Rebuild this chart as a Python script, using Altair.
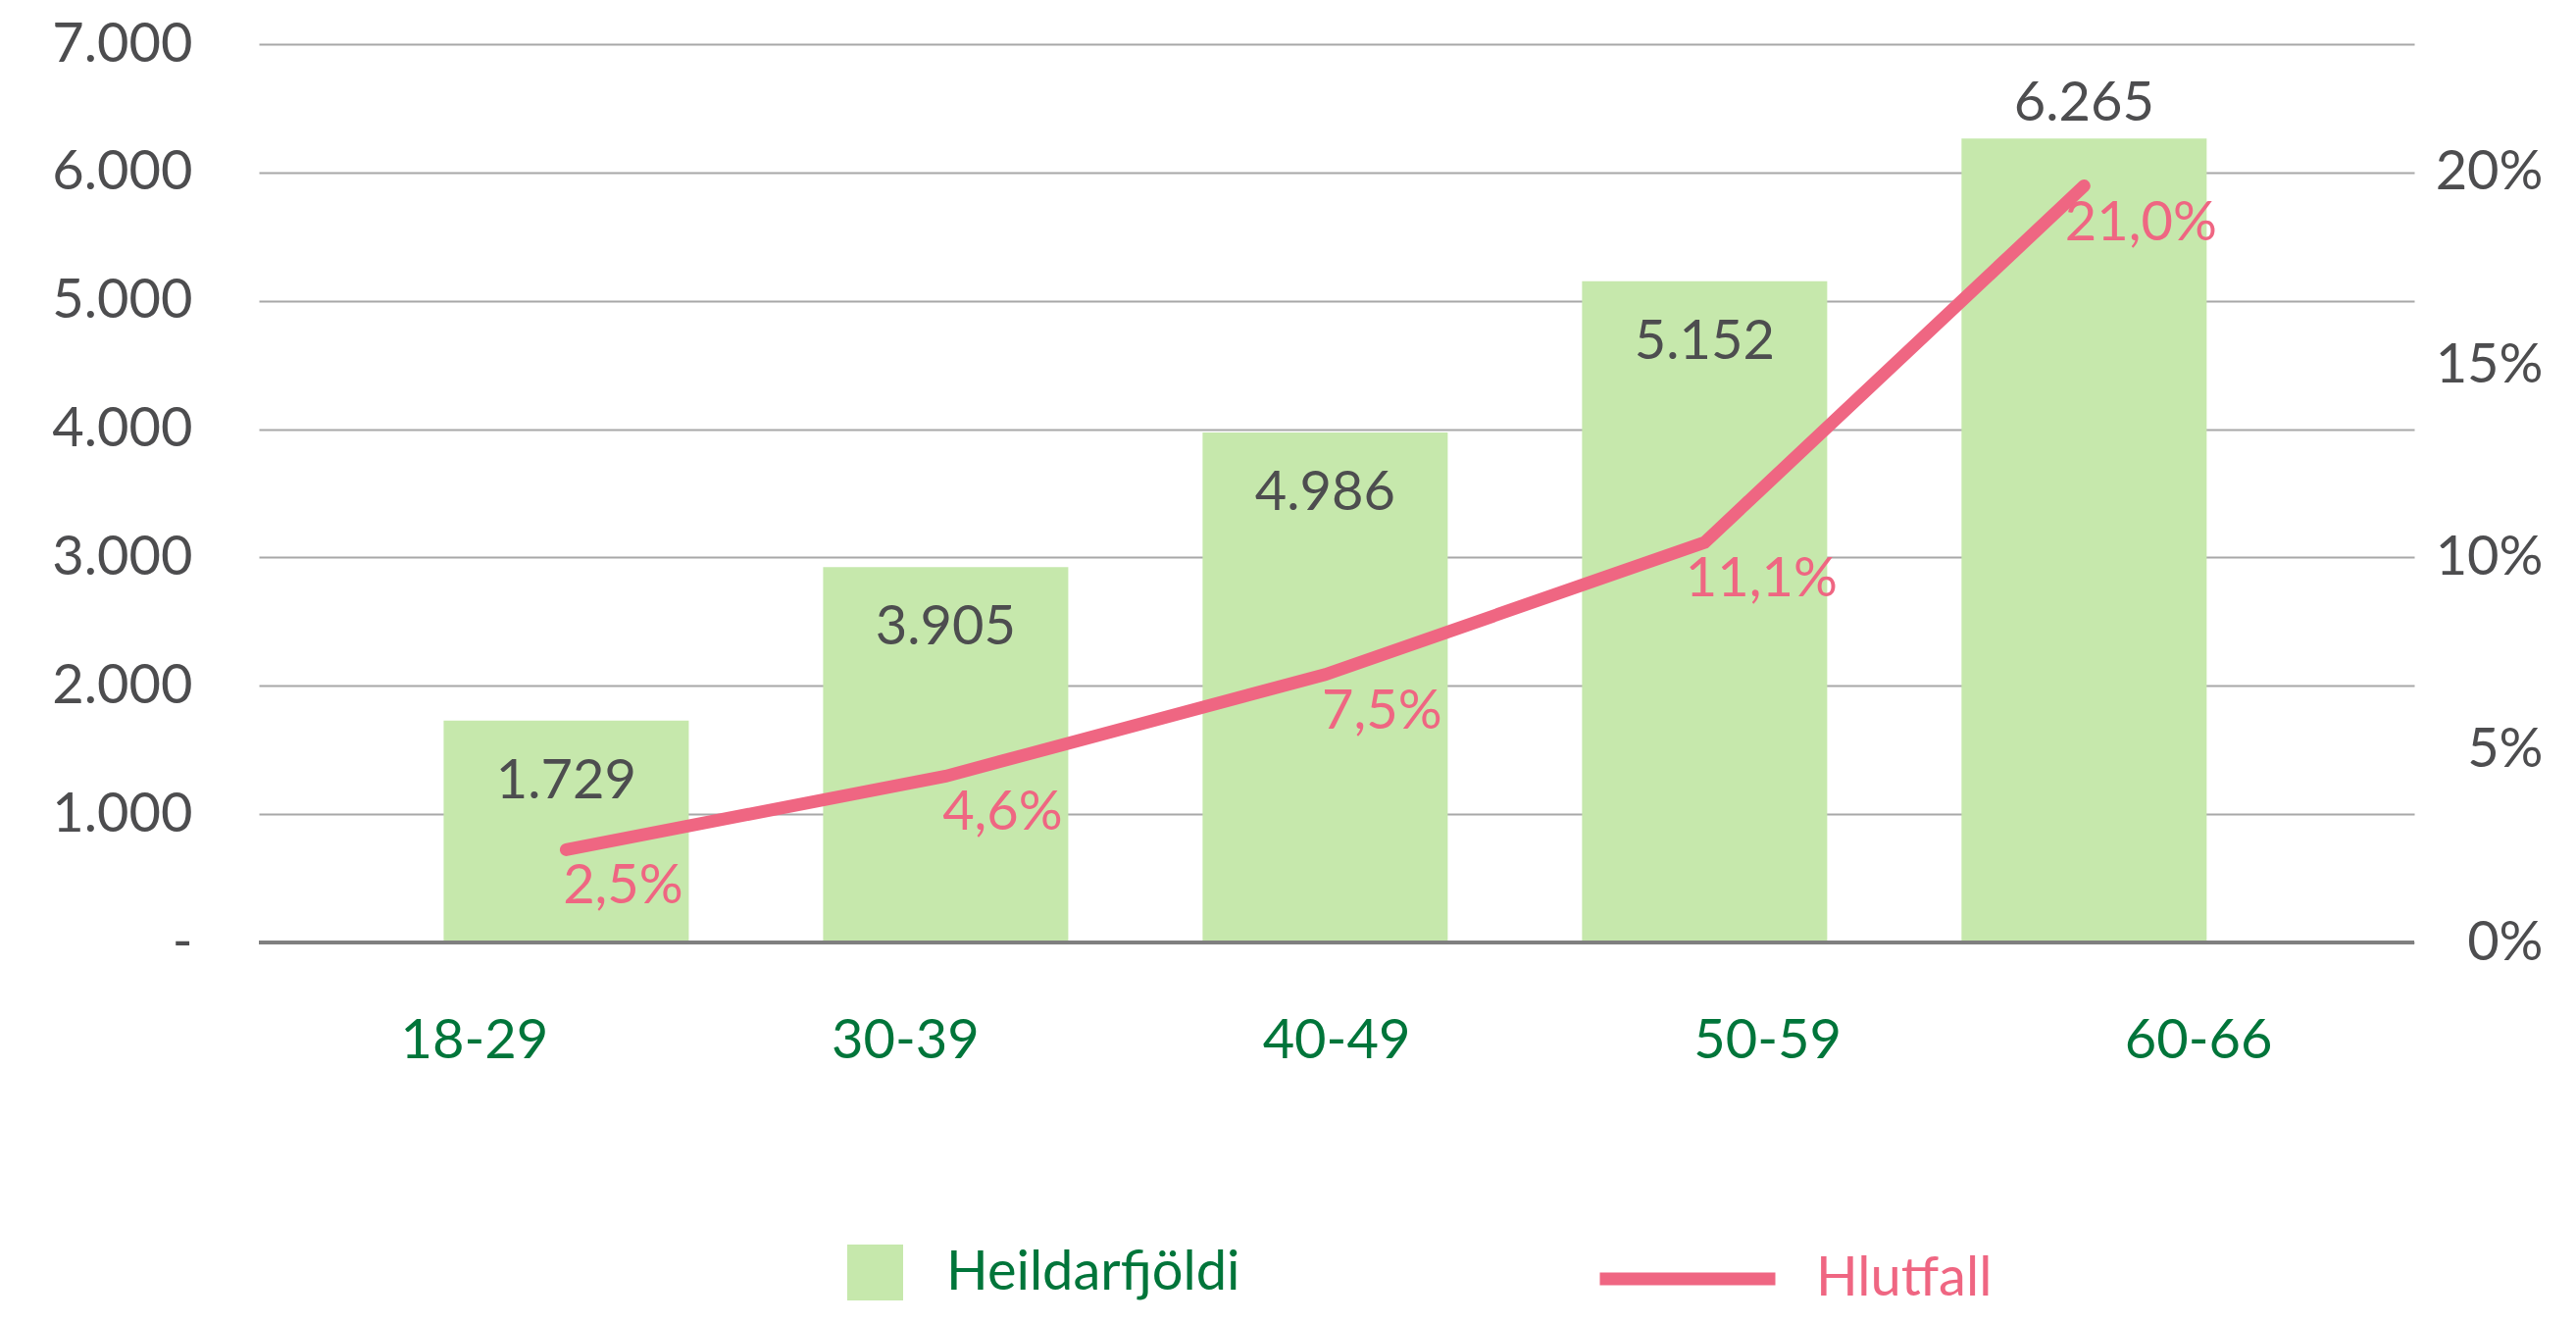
import altair as alt
import pandas as pd

# ---- data ----
categories = ["18-29", "30-39", "40-49", "50-59", "60-66"]
counts = [1729, 2925, 3973, 5152, 6265]              # bar heights as drawn
count_labels = ["1.729", "3.905", "4.986", "5.152", "6.265"]
ratios = [2.41, 4.32, 6.96, 10.39, 19.65]           # line heights as drawn (%)
ratio_labels = ["2,5%", "4,6%", "7,5%", "11,1%", "21,0%"]
left_ticks = [0, 1000, 2000, 3000, 4000, 5000, 6000, 7000]
right_ticks = [0, 5, 10, 15, 20]

df = pd.DataFrame({
    "cat": categories,
    "idx": list(range(len(categories))),
    "count": counts,
    "count_label": count_labels,
    "ratio": ratios,
    "ratio_label": ratio_labels,
    "s_bar": ["Heildarfjöldi"] * len(categories),
    "s_line": ["Hlutfall"] * len(categories),
})

FONT = "Lato"
BAR = "#C6E8AC"
PINK = "#EF6682"
DARK = "#4D4D4F"
CATG = "#00753A"
FS = 56

W, H = 2198, 916

xq = alt.X("idx:Q", scale=alt.Scale(domain=[-0.797, 4.857], nice=False, zero=False), axis=None)

yl = alt.Y(
    "count:Q",
    scale=alt.Scale(domain=[0, 7000], nice=False),
    axis=alt.Axis(
        orient="left", values=left_ticks, title=None, ticks=False, domain=False,
        grid=True, gridColor="#A8A8A8", gridWidth=2,
        labelExpr="datum.value == 0 ? '-' : replace(format(datum.value, ','), ',', '.')",
        labelFontSize=FS, labelColor=DARK, labelPadding=68, labelFont=FONT,
    ),
)

yr = alt.Y(
    "ratio:Q",
    scale=alt.Scale(domain=[0, 70 / 3], nice=False),
    axis=alt.Axis(
        orient="right", values=right_ticks, title=None, ticks=False, domain=False,
        grid=False, labelExpr="datum.value + '%'", labelAlign="right",
        labelFontSize=FS, labelColor=DARK, labelPadding=131, labelFont=FONT,
    ),
)

bars = alt.Chart(df).mark_bar(width=250).encode(
    x=xq,
    y=yl,
    fill=alt.Fill(
        "s_bar:N",
        scale=alt.Scale(domain=["Heildarfjöldi"], range=[BAR]),
        legend=alt.Legend(
            orient="none", legendX=600, legendY=1224, title=None,
            symbolType="square", symbolSize=3249, symbolStrokeWidth=0, symbolOpacity=1,
            labelFontSize=56, labelColor=CATG, labelOffset=44, labelFont=FONT,
            padding=0, labelLimit=1000,
        ),
    ),
)

zero_rule = alt.Chart(df).transform_calculate(count="0").mark_rule(
    color="#7F7F7F", strokeWidth=3
).encode(y=yl)

t_inside = alt.Chart(df).transform_filter("datum.idx < 4").mark_text(
    dy=62, fontSize=FS, color=DARK, baseline="middle", font=FONT
).encode(x=xq, y=yl, text="count_label:N")

t_top = alt.Chart(df).transform_filter("datum.idx == 4").mark_text(
    dy=-35, fontSize=FS, color=DARK, baseline="middle", font=FONT
).encode(x=xq, y=yl, text="count_label:N")

line = alt.Chart(df).mark_line(strokeWidth=13, strokeCap="round").encode(
    x=xq,
    y=yr,
    stroke=alt.Stroke(
        "s_line:N",
        scale=alt.Scale(domain=["Hlutfall"], range=[PINK]),
        legend=alt.Legend(
            orient="none", legendX=1361, legendY=1163, title=None,
            symbolType="stroke", symbolSize=32041, symbolStrokeWidth=13,
            labelFontSize=56, labelColor=PINK, labelOffset=35, labelFont=FONT,
            padding=0, labelLimit=1000,
        ),
    ),
)

t_pct = alt.Chart(df).mark_text(
    dx=58, dy=38, fontSize=FS, color=PINK, baseline="middle", font=FONT
).encode(x=xq, y=yr, text="ratio_label:N")

axis_layer = alt.Chart(df).mark_text(opacity=0).encode(
    x=alt.X(
        "cat:N", sort=categories,
        scale=alt.Scale(type="band", paddingInner=0, paddingOuter=0),
        axis=alt.Axis(
            orient="bottom", title=None, ticks=False, domain=False, grid=False,
            labelAngle=0, labelFontSize=FS, labelColor=CATG, labelPadding=73,
            labelFont=FONT,
        ),
    ),
    text="cat:N",
)

left = alt.layer(bars, zero_rule, t_inside, t_top)
right = alt.layer(line, t_pct)
main = alt.layer(left, right).resolve_scale(y="independent")

chart = alt.layer(axis_layer, main).resolve_scale(x="independent", y="independent").properties(
    width=W,
    height=H,
    padding={"left": 256, "top": 37, "right": 146, "bottom": 377},
    autosize=alt.AutoSizeParams(type="none"),
).configure(font=FONT).configure_view(stroke=None)

chart.save("out.html", embed_options={"renderer": "svg", "actions": False})
